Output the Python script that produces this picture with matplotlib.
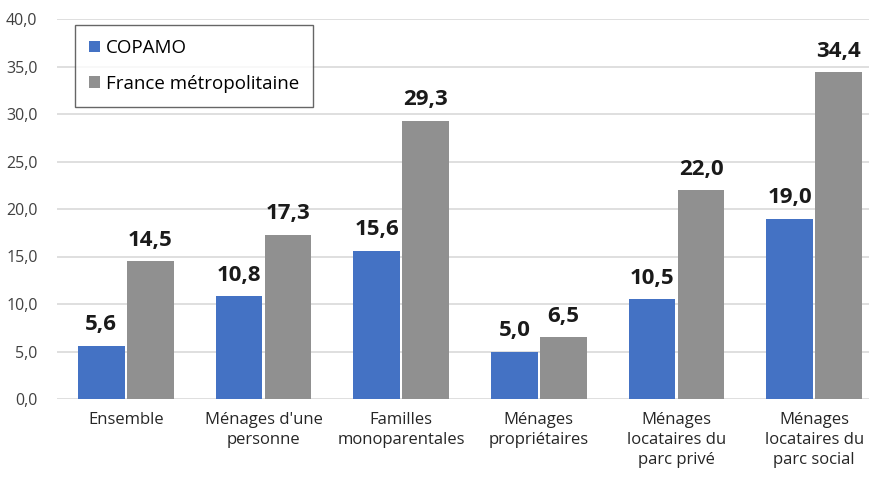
import matplotlib.pyplot as plt
import numpy as np

categories = ["Ensemble", "Ménages d'une\npersonne", "Familles\nmonoparentales",
              "Ménages\npropriétaires", "Ménages\nlocataires du\nparc privé",
              "Ménages\nlocataires du\nparc social"]
copamo = [5.6, 10.8, 15.6, 5.0, 10.5, 19.0]
france = [14.5, 17.3, 29.3, 6.5, 22.0, 34.4]
series_names = ["COPAMO", "France métropolitaine"]
yticks = np.arange(0, 45, 5)

plt.rcParams['font.family'] = ['Open Sans', 'DejaVu Sans']

fig = plt.figure(figsize=(8.7, 4.82), dpi=100)
ax = fig.add_axes([57/870, 83/482, 826/870, 380/482])

x = np.arange(len(categories))
w = 0.34
b1 = ax.bar(x - w/2 - 0.008, copamo, w, color='#4472C4', label=series_names[0], zorder=3)
b2 = ax.bar(x + w/2 + 0.008, france, w, color='#909090', label=series_names[1], zorder=3)

for bars, vals in ((b1, copamo), (b2, france)):
    for r, v in zip(bars, vals):
        ax.annotate(f"{v:.1f}".replace('.', ','), (r.get_x() + r.get_width()/2, v),
                    xytext=(0, 7.5), textcoords='offset points', ha='center', va='bottom',
                    fontsize=16, fontweight='bold', color='#1a1a1a')

ax.set_xlim(-0.5, 5.5)
ax.set_ylim(0, 40)
ax.set_yticks(yticks)
ax.set_yticklabels([f"{t:.1f}".replace('.', ',') for t in yticks])
ax.set_xticks(x)
ax.set_xticklabels(categories, fontsize=12, linespacing=1.35, color='#262626')
ax.tick_params(axis='y', labelsize=11.5, length=0, pad=14, labelcolor='#404040')
ax.tick_params(axis='x', length=0, pad=9)
ax.yaxis.grid(True, color='#D9D9D9', linewidth=1.2, zorder=0)
for s in ax.spines.values():
    s.set_visible(False)

leg = ax.legend(loc='upper left', bbox_to_anchor=(18/826, 1 - 6/380), fontsize=13.5,
                frameon=True, fancybox=False, edgecolor='#404040', handlelength=0.6,
                handleheight=0.6, handletextpad=0.3, labelspacing=0.95,
                borderpad=0.75, borderaxespad=0)
leg.get_frame().set_linewidth(1.0)
leg.set_zorder(5)

fig.savefig('out.png', dpi=100)
